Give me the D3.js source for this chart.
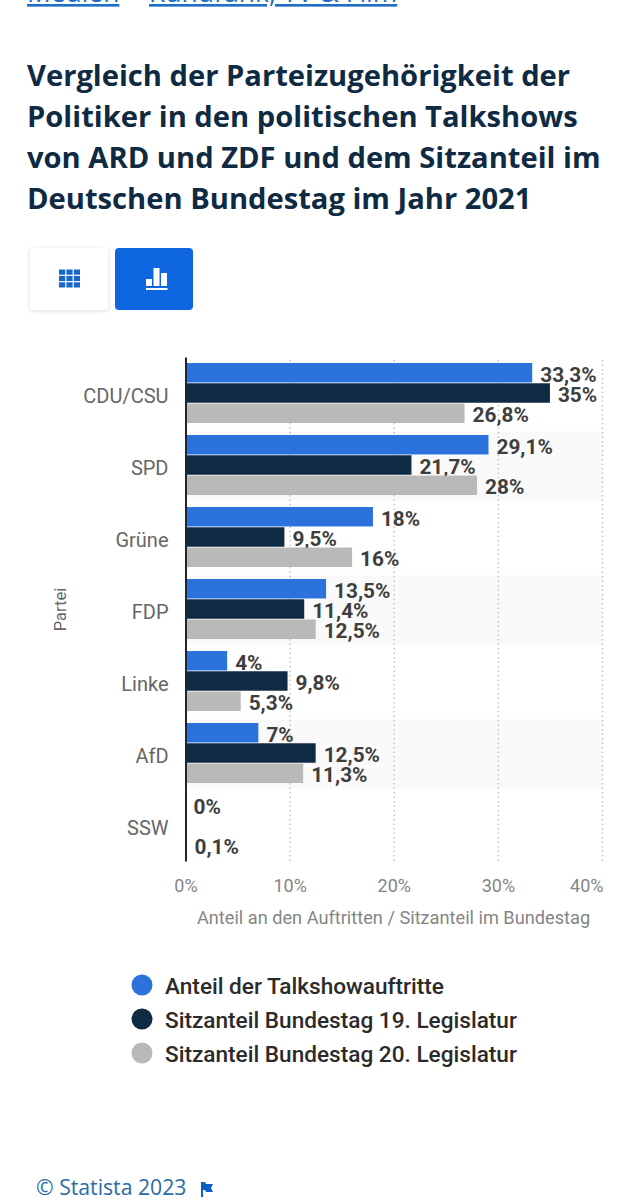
<!DOCTYPE html>
<html lang="de"><head><meta charset="utf-8">
<script src="https://cdnjs.cloudflare.com/ajax/libs/d3/7.8.5/d3.min.js"></script>
<style>
html,body{margin:0;padding:0;background:#fff}
svg{display:block}
</style></head><body>
<script>
const parties = ["CDU/CSU","SPD","Grüne","FDP","Linke","AfD","SSW"];
const seriesNames = ["Anteil der Talkshowauftritte","Sitzanteil Bundestag 19. Legislatur","Sitzanteil Bundestag 20. Legislatur"];
const talkshow = [33.3,29.1,18,13.5,4,7,0];
const seats19 = [35,21.7,9.5,11.4,9.8,12.5,null];
const seats20 = [26.8,28,16,12.5,5.3,11.3,0.1];
const xTicks = [0,10,20,30,40];
const titleLines = ["Vergleich der Parteizugehörigkeit der","Politiker in den politischen Talkshows","von ARD und ZDF und dem Sitzanteil im","Deutschen Bundestag im Jahr 2021"];
const colors = ["#2b72dc","#0f2a43","#b9b9b9"];
const striped = ["SPD","FDP","AfD"];
const seriesValues = [talkshow,seats19,seats20];

const W=637,H=1200;
const svg=d3.select("body").append("svg").attr("width",W).attr("height",H).attr("viewBox",[0,0,W,H]);
const openSans="'Open Sans',sans-serif", body="Roboto,sans-serif";

// breadcrumb, cropped by the top edge
const crumb=svg.append("g").attr("font-family",openSans).attr("font-size",26.4).attr("fill","#1f6fc4");
crumb.append("text").attr("x",27).attr("y",2).attr("text-decoration","underline").text("Medien");
crumb.append("text").attr("x",149).attr("y",2).attr("text-decoration","underline").text("Rundfunk, TV & Film");

// title
svg.append("g").selectAll("text").data(titleLines).join("text")
  .attr("x",27).attr("y",(d,i)=>86+i*41)
  .attr("font-family",openSans).attr("font-weight",700).attr("font-size",29.15).attr("fill","#0f2a43")
  .text(d=>d);

// buttons
const defs=svg.append("defs");
const f=defs.append("filter").attr("id","sh").attr("x","-20%").attr("y","-20%").attr("width","140%").attr("height","140%");
f.append("feDropShadow").attr("dx",0).attr("dy",1).attr("stdDeviation",2).attr("flood-color","#000").attr("flood-opacity",.15);
svg.append("rect").attr("x",30).attr("y",248).attr("width",78).attr("height",62).attr("rx",4).attr("fill","#fff").attr("filter","url(#sh)");
svg.append("rect").attr("x",115).attr("y",248).attr("width",78).attr("height",62).attr("rx",4).attr("fill","#0d66e0");
const gridIcon=svg.append("g").attr("fill","#1766c9");
d3.range(3).forEach(r=>d3.range(3).forEach(c=>gridIcon.append("rect").attr("x",59+c*7.4).attr("y",269.5+r*6.4).attr("width",6.2).attr("height",5.2)));
const barIcon=svg.append("g").attr("fill","#fff");
[[146,279,6,7],[153.5,268,6,18],[161,273,6,13],[146,288,21.5,2]].forEach(b=>barIcon.append("rect").attr("x",b[0]).attr("y",b[1]).attr("width",b[2]).attr("height",b[3]));

// scales
const x=d3.scaleLinear().domain([0,40]).range([185.5,602]);
const y=d3.scaleBand().domain(parties).range([357,861]);
const inner=d3.scaleBand().domain(d3.range(3)).range([6,66]).paddingInner(.04);

// stripes
svg.append("g").selectAll("rect").data(striped).join("rect")
  .attr("x",x(0)).attr("width",x(40)-x(0))
  .attr("y",d=>y(d)+2.5).attr("height",y.bandwidth()-3)
  .attr("fill","#fafafa");

// x axis and dotted grid
const xAxis=svg.append("g").attr("transform","translate(0,861)")
  .call(d3.axisBottom(x).tickValues(xTicks).tickFormat(d=>d+"%").tickSize(-504).tickPadding(18));
xAxis.select(".domain").remove();
xAxis.selectAll("line").attr("stroke","#c4c4c4").attr("stroke-width",1.5).attr("stroke-dasharray","1.5 3");
xAxis.selectAll("text").attr("font-family",body).attr("font-size",18).attr("fill","#858585");
xAxis.selectAll("text").filter(d=>d===40).attr("text-anchor","end").attr("dx",1);
xAxis.selectAll(".tick").filter(d=>d===0).select("line").remove();

// value labels (beneath the bars, as in the source)
const flat=parties.flatMap((p,i)=>seriesValues.map((s,k)=>({p,k,v:s[i]}))).filter(d=>d.v!==null);
svg.append("g").selectAll("text").data(flat).join("text")
  .attr("x",d=>x(d.v)+8).attr("y",d=>y(d.p)+inner(d.k)+inner.bandwidth()/2+9)
  .attr("font-family",body).attr("font-weight",700).attr("font-size",20.8).attr("fill","#3e3e3e")
  .text(d=>String(d.v).replace(".",",")+"%");

// bars
svg.append("g").selectAll("rect").data(flat.filter(d=>d.v>0.1)).join("rect")
  .attr("x",x(0)).attr("y",d=>y(d.p)+inner(d.k))
  .attr("width",d=>x(d.v)-x(0)).attr("height",inner.bandwidth())
  .attr("fill",d=>colors[d.k]);

// y axis
const yAxis=svg.append("g").attr("transform","translate(185.5,0)")
  .call(d3.axisLeft(y).tickSize(0).tickPadding(17));
yAxis.select(".domain").attr("stroke","#1c2733").attr("stroke-width",2);
yAxis.selectAll("text").attr("font-family",body).attr("font-size",20).attr("fill","#666").attr("dy","1.15em").attr("transform","translate(0,-13)");

// axis titles
svg.append("text").attr("transform","translate(66,609.5) rotate(-90)").attr("text-anchor","middle")
  .attr("font-family",body).attr("font-size",16.5).attr("fill","#666").text("Partei");
svg.append("text").attr("x",393.5).attr("y",924).attr("text-anchor","middle")
  .attr("font-family",body).attr("font-size",18.2).attr("fill","#858585").text("Anteil an den Auftritten / Sitzanteil im Bundestag");

// legend
const lg=svg.append("g").selectAll("g").data(seriesNames).join("g")
  .attr("transform",(d,i)=>`translate(0,${985+i*34})`);
lg.append("circle").attr("cx",142).attr("r",10.5).attr("fill",(d,i)=>colors[i]);
lg.append("text").attr("x",165).attr("y",9)
  .attr("font-family",body).attr("font-weight",500).attr("font-size",22.6).attr("fill","#2b2b2b").text(d=>d);

// footer
svg.append("text").attr("x",36).attr("y",1195).attr("font-family",openSans).attr("font-size",21.2).attr("fill","#2a6aa8").text("© Statista 2023");
svg.append("path").attr("d","M201 1182h4l1 2h7l-2 4 2 4h-7l-1-2h-2v7h-2z").attr("fill","#0d5fc4");
</script>
</body></html>
